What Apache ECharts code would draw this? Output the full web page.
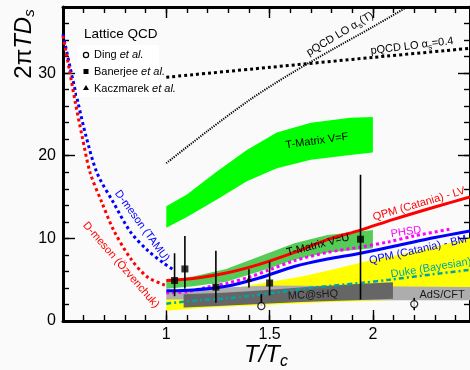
<!DOCTYPE html>
<html>
<head>
<meta charset="utf-8">
<script src="https://cdn.jsdelivr.net/npm/echarts@6/dist/echarts.min.js"></script>
<style>
html, body { margin: 0; padding: 0; background: #fafafa; }
#chart { width: 470px; height: 370px; }
</style>
</head>
<body>
<div id="chart"></div>
<script>
// tick labels
const xTickLabels = ['1', '1.5', '2'];
const yTickLabels = ['0', '10', '20', '30'];

// D-meson curves (hadronic side)
const dmesonTamu = [[0.5, 34.7], [0.536, 30.5], [0.573, 26.4], [0.611, 22.4], [0.665, 17.9], [0.745, 14.3], [0.826, 10.8], [0.907, 8.6], [0.987, 7.0], [1.035, 6.2]];
const dmesonOzv = [[0.5, 34.5], [0.53, 30.5], [0.56, 26.4], [0.592, 22.4], [0.632, 17.9], [0.689, 14.3], [0.745, 11.0], [0.826, 7.6], [0.907, 5.35], [0.987, 4.4], [1.0, 4.3]];

// pQCD
const pqcdFixed = [[1.0, 29.5], [1.5, 30.7], [2.0, 31.9], [2.47, 33.0]];
const pqcdRunning = [[1.0, 19.1], [1.2, 23.0], [1.406, 26.8], [1.6, 29.9], [1.8, 32.8], [2.0, 35.6], [2.2, 38.5]];

// model lines
const qpmLV = [[1.0, 4.9], [1.13, 5.15], [1.29, 5.8], [1.45, 6.85], [1.62, 8.3], [1.78, 9.85], [1.94, 11.0], [2.1, 12.3], [2.3, 13.8], [2.47, 15.0]];
const qpmBM = [[1.0, 3.65], [1.13, 3.75], [1.29, 4.2], [1.45, 5.2], [1.62, 6.6], [1.78, 7.5], [1.94, 8.2], [2.13, 9.2], [2.3, 10.1], [2.47, 10.9]];
const phsd = [[1.0, 3.4], [1.1, 3.55], [1.2, 4.1], [1.3, 4.6], [1.4, 5.3], [1.5, 6.2], [1.62, 7.3], [1.78, 8.3], [1.94, 8.95], [2.08, 9.6], [2.2, 10.3], [2.37, 11.1]];
const duke = [[1.0, 2.1], [1.15, 2.5], [1.3, 2.75], [1.45, 3.2], [1.55, 3.5], [1.67, 3.95], [1.94, 4.6], [2.08, 5.0], [2.29, 5.65], [2.47, 6.2]];

// bands: T-Matrix V=F
const tvfX = [1.0, 1.1, 1.245, 1.39, 1.535, 1.70, 1.89, 2.0];
const tvfHi = [13.9, 15.3, 18.1, 20.7, 22.8, 24.0, 24.6, 24.7];
const tvfLo = [11.3, 12.6, 14.7, 16.9, 18.5, 19.5, 20.1, 20.4];
// T-Matrix V=U
const tvuX = [1.0, 1.13, 1.29, 1.45, 1.62, 1.78, 2.0];
const tvuHi = [4.9, 5.4, 6.3, 7.8, 9.4, 10.4, 11.0];
const tvuLo = [3.9, 4.2, 4.75, 6.0, 7.4, 8.3, 8.8];
// yellow band
const yelX = [1.0, 1.2, 1.45, 1.65, 1.8, 2.0, 2.2, 2.47];
const yelHi = [2.9, 3.4, 4.5, 5.35, 6.2, 7.4, 8.4, 10.0];
const yelLo = [1.25, 1.62, 1.9, 2.15, 2.3, 2.45, 2.6, 2.7];
// AdS/CFT
const adsX = [1.0, 1.15, 1.5, 2.0, 2.47];
const adsHi = [3.45, 3.9, 4.3, 4.2, 4.1];
const adsLo = [2.6, 2.6, 2.55, 2.5, 2.5];
// MC@sHQ
const mcX = [1.084, 1.25, 1.4, 1.65, 1.94, 2.097];
const mcHi = [3.25, 3.4, 3.6, 4.05, 4.5, 4.7];
const mcLo = [1.63, 1.82, 2.0, 2.3, 2.55, 2.7];

// lattice QCD points: [T/Tc, value, low, high]
const ding = [[1.46, 1.8, 1.8, 3.25], [2.2, 2.05, 1.3, 2.8]];
const banerjee = [[1.04, 4.9, 3.0, 8.2], [1.09, 6.3, 3.9, 10.3], [1.24, 4.1, 2.2, 8.5], [1.5, 4.6, 3.1, 7.2], [1.94, 9.9, 2.6, 17.7]];
const kaczmarek = [[1.4, 5.1, 4.06, 6.25]];

const FONT = '"Liberation Sans", Arial, Helvetica, sans-serif';
const X_MIN = 0.5, X_MAX = 2.47, Y_MIN = 0, Y_MAX = 38;

const chart = echarts.init(document.getElementById('chart'));

function band(xs, lo, hi, color, z) {
  return {
    type: 'custom', z: z, silent: true, clip: true,
    data: [[xs[0], lo[0]]],
    renderItem: function (params, api) {
      const pts = xs.map((x, i) => api.coord([x, hi[i]]));
      for (let i = xs.length - 1; i >= 0; i--) pts.push(api.coord([xs[i], lo[i]]));
      return { type: 'polygon', shape: { points: pts }, style: { fill: color } };
    }
  };
}

function curve(data, color, width, type, z) {
  return {
    type: 'line', data: data, z: z, silent: true, showSymbol: false, smooth: 0.3,
    clip: true,
    lineStyle: { color: color, width: width, type: type }
  };
}

function errors(data) {
  return {
    type: 'custom', z: 8, silent: true,
    data: data,
    renderItem: function (params, api) {
      const lo = api.coord([api.value(0), api.value(2)]);
      const hi = api.coord([api.value(0), api.value(3)]);
      return { type: 'line', shape: { x1: lo[0], y1: lo[1], x2: hi[0], y2: hi[1] }, style: { stroke: '#000', lineWidth: 1.6 } };
    }
  };
}

function axisX(interval, pos, len, main) {
  return {
    type: 'value', min: X_MIN, max: X_MAX, interval: interval, position: pos,
    axisLine: { show: main, onZero: false, lineStyle: { color: '#000', width: 3 } },
    axisTick: { show: true, inside: true, length: len, lineStyle: { color: '#000', width: 1.4 } },
    axisLabel: {
      show: main && pos === 'bottom', color: '#000', fontSize: 16, fontFamily: FONT, margin: 6,
      showMinLabel: false, showMaxLabel: false,
      formatter: v => xTickLabels.includes(String(v)) ? String(v) : ''
    },
    splitLine: { show: false }
  };
}

function axisY(interval, pos, len, main) {
  return {
    type: 'value', min: Y_MIN, max: Y_MAX, interval: interval, position: pos,
    axisLine: { show: main, onZero: false, lineStyle: { color: '#000', width: 3 } },
    axisTick: { show: true, inside: true, length: len, lineStyle: { color: '#000', width: 1.4 } },
    axisLabel: {
      show: main && pos === 'left', color: '#000', fontSize: 16, fontFamily: FONT, margin: 7,
      showMaxLabel: false,
      formatter: v => yTickLabels.includes(String(v)) ? String(v) : ''
    },
    splitLine: { show: false }
  };
}

function label(text, x, y, deg, color, size) {
  return {
    type: 'text', x: x, y: y, rotation: deg * Math.PI / 180, z: 20,
    style: { text: text, fill: color, font: size + 'px ' + FONT, align: 'center', verticalAlign: 'middle' }
  };
}

const subRich = {
  s: { fontSize: 8, fontFamily: FONT, fill: '#000', padding: [7, 0, 0, 0] },
  n: { fontSize: 11, fontFamily: FONT, fill: '#000' }
};

const option = {
  backgroundColor: '#fafafa',
  animation: false,
  grid: { left: 63, right: 0, top: 7, bottom: 49 },
  xAxis: [
    axisX(0.5, 'bottom', 11, true),
    axisX(0.1, 'bottom', 6, false),
    axisX(0.5, 'top', 11, true),
    axisX(0.1, 'top', 6, false)
  ],
  yAxis: [
    axisY(10, 'left', 12, true),
    axisY(2, 'left', 6, false),
    axisY(10, 'right', 12, true),
    axisY(2, 'right', 6, false)
  ],
  series: [
    band(yelX, yelLo, yelHi, '#ffff00', 1),
    band(adsX, adsLo, adsHi, '#adadad', 1),
    band(mcX, mcLo, mcHi, '#666666', 1),
    band(tvuX, tvuLo, tvuHi, '#55cc55', 1),
    band(tvfX, tvfLo, tvfHi, '#00ff00', 1),
    curve(pqcdFixed, '#000', 3, [3, 3], 5),
    curve(pqcdRunning, '#000', 2, [1.2, 1.2], 5),
    curve(dmesonTamu, '#0000ff', 3, [3, 3], 5),
    curve(dmesonOzv, '#ff0000', 3, [3, 3], 5),
    curve(duke, '#00a3a8', 2.5, [5, 3, 2, 3], 5),
    curve(phsd, '#ff00ff', 3, [3, 3], 5),
    curve(qpmBM, '#0000ff', 3, 'solid', 6),
    curve(qpmLV, '#ff0000', 3, 'solid', 6),
    errors(ding),
    errors(banerjee),
    errors(kaczmarek),
    {
      type: 'scatter', z: 9, silent: true, symbol: 'circle', symbolSize: 7,
      data: ding.map(d => [d[0], d[1]]),
      itemStyle: { color: '#fff', borderColor: '#000', borderWidth: 1.3 }
    },
    {
      type: 'scatter', z: 9, silent: true, symbol: 'rect', symbolSize: 7,
      data: banerjee.map(d => [d[0], d[1]]),
      itemStyle: { color: '#000' }
    },
    {
      type: 'scatter', z: 9, silent: true, symbol: 'triangle', symbolSize: 6,
      data: kaczmarek.map(d => [d[0], d[1]]),
      itemStyle: { color: '#000' }
    }
  ],
  graphic: [
    // axis titles
    {
      type: 'text', x: 24, y: 44, rotation: Math.PI / 2, z: 20,
      style: {
        text: '{n|2π}{i|TD}{s|s}', align: 'center', verticalAlign: 'middle',
        rich: {
          n: { fontSize: 24, fontFamily: FONT, fill: '#000' },
          i: { fontSize: 24, fontFamily: FONT, fontStyle: 'italic', fill: '#000' },
          s: { fontSize: 15, fontFamily: FONT, fontStyle: 'italic', fill: '#000', padding: [12, 0, 0, 0] }
        }
      }
    },
    {
      type: 'text', x: 266, y: 355, z: 20,
      style: {
        text: '{i|T}{n|/}{i|T}{s|c}', align: 'center', verticalAlign: 'middle',
        rich: {
          n: { fontSize: 24, fontFamily: FONT, fontStyle: 'italic', fill: '#000' },
          i: { fontSize: 24, fontFamily: FONT, fontStyle: 'italic', fill: '#000' },
          s: { fontSize: 16, fontFamily: FONT, fontStyle: 'italic', fill: '#000', padding: [14, 0, 0, 0] }
        }
      }
    },
    // lattice legend
    { type: 'rect', x: 77, y: 45, z: 15, shape: { width: 82, height: 52 }, style: { fill: '#ffffff' } },
    { type: 'text', x: 84, y: 34, z: 20, style: { text: 'Lattice QCD', font: '13.5px ' + FONT, fill: '#000', verticalAlign: 'middle' } },
    { type: 'circle', z: 20, shape: { cx: 86, cy: 55, r: 2.6 }, style: { fill: '#fff', stroke: '#000', lineWidth: 1.2 } },
    { type: 'rect', z: 20, shape: { x: 83.5, y: 69, width: 5, height: 5 }, style: { fill: '#000' } },
    { type: 'polygon', z: 20, shape: { points: [[86, 85], [83, 90], [89, 90]] }, style: { fill: '#000' } },
    {
      type: 'text', x: 94, y: 55, z: 20,
      style: { text: '{n|Ding }{i|et al.}', verticalAlign: 'middle', rich: { n: { fontSize: 11, fontFamily: FONT }, i: { fontSize: 11, fontFamily: FONT, fontStyle: 'italic' } } }
    },
    {
      type: 'text', x: 94, y: 72, z: 20,
      style: { text: '{n|Banerjee }{i|et al.}', verticalAlign: 'middle', rich: { n: { fontSize: 11, fontFamily: FONT }, i: { fontSize: 11, fontFamily: FONT, fontStyle: 'italic' } } }
    },
    {
      type: 'text', x: 94, y: 89, z: 20,
      style: { text: '{n|Kaczmarek }{i|et al.}', verticalAlign: 'middle', rich: { n: { fontSize: 11, fontFamily: FONT }, i: { fontSize: 11, fontFamily: FONT, fontStyle: 'italic' } } }
    },
    // curve labels
    {
      type: 'text', x: 340, y: 34, rotation: 31 * Math.PI / 180, z: 20,
      style: { text: '{n|pQCD LO α}{s|s}{n|(T)}', align: 'center', verticalAlign: 'middle', rich: subRich }
    },
    {
      type: 'text', x: 412, y: 46, rotation: 7 * Math.PI / 180, z: 20,
      style: { text: '{n|pQCD LO α}{s|s}{n|=0.4}', align: 'center', verticalAlign: 'middle', rich: subRich }
    },
    label('T-Matrix V=F', 317, 141, 8, '#000', 11),
    label('T-Matrix V=U', 318, 245, 14, '#000', 11),
    label('MC@sHQ', 313, 295, 3, '#1a1a1a', 11),
    label('AdS/CFT', 442, 295, 0, '#1a1a1a', 11),
    label('QPM (Catania) - LV', 419, 204, 16.5, '#ff0000', 11),
    label('PHSD', 406, 232, 8, '#ff00ff', 11),
    label('QPM (Catania) - BM', 418, 250, 12.7, '#0000ff', 11),
    label('Duke (Bayesian)', 431, 268, 9.3, '#00a6a6', 11),
    label('D-meson (TAMU)', 142, 226, -54, '#0000ff', 11),
    label('D-meson (Özvenchuk)', 121, 265, -49, '#ff0000', 11)
  ]
};

chart.setOption(option);
window.addEventListener('resize', function () {
  chart.resize();
});
</script>
</body>
</html>
